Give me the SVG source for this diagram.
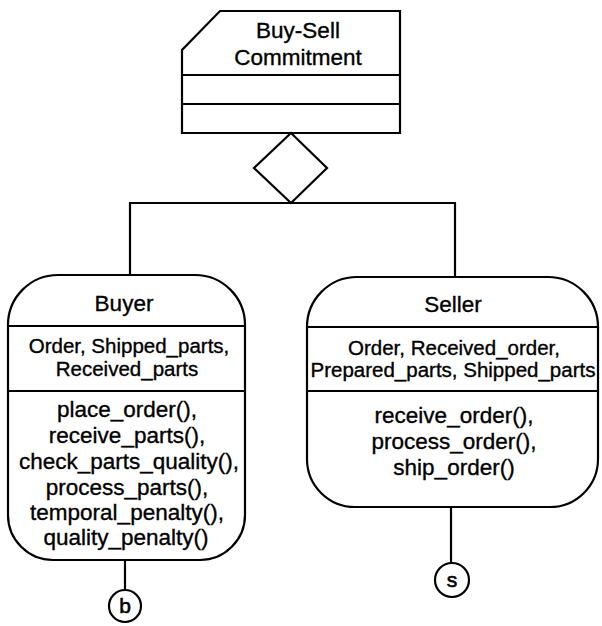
<svg xmlns="http://www.w3.org/2000/svg" width="602" height="626" viewBox="0 0 602 626">
  <style>
    .shape { fill: #fff; stroke: #000; stroke-width: 2.2; }
    .line { fill: none; stroke: #000; stroke-width: 2.2; }
    text { font-family: "Liberation Sans", Arial, sans-serif; fill: #000; stroke: #000; stroke-width: 0.35; text-anchor: middle; }
    .title { font-size: 22.5px; }
    .attr { font-size: 20.5px; }
    .op { font-size: 22.5px; }
    .tag { font-size: 21px; stroke-width: 0.6; }
  </style>
  <rect width="602" height="626" fill="#fff"/>

  <!-- connectors -->
  <g id="connectors">
    <polyline class="line" points="130,275 130,203 455,203 455,277"/>
    <line class="line" x1="125" y1="560" x2="125" y2="590"/>
    <line class="line" x1="451" y1="507" x2="451" y2="563"/>
  </g>

  <!-- commitment class with chamfered corner -->
  <g id="commitment">
    <path class="shape" d="M220,11 L400,11 L400,133 L182,133 L182,50 Z"/>
    <line class="line" x1="182" y1="75" x2="400" y2="75"/>
    <line class="line" x1="182" y1="104" x2="400" y2="104"/>
    <text class="title" x="298" y="38">Buy-Sell</text>
    <text class="title" x="298" y="65">Commitment</text>
  </g>

  <!-- aggregation diamond -->
  <g id="diamond">
    <polygon class="shape" points="291,133 327,168 291,203 254,168"/>
  </g>

  <!-- buyer role -->
  <g id="buyer">
    <path class="shape" d="M8,325 A50,50 0 0 1 58,275 L195,275 A50,50 0 0 1 245,325 L245,515 A45,45 0 0 1 200,560 L53,560 A45,45 0 0 1 8,515 Z"/>
    <line class="line" x1="8" y1="326" x2="245" y2="326"/>
    <line class="line" x1="8" y1="391" x2="245" y2="391"/>
    <text class="title" x="124" y="311">Buyer</text>
    <text class="attr" x="129" y="353">Order, Shipped_parts,</text>
    <text class="attr" x="127" y="376">Received_parts</text>
    <text class="op" x="127" y="417">place_order(),</text>
    <text class="op" x="127" y="443">receive_parts(),</text>
    <text class="op" x="129" y="469">check_parts_quality(),</text>
    <text class="op" x="127" y="494.5">process_parts(),</text>
    <text class="op" x="127" y="520">temporal_penalty(),</text>
    <text class="op" x="126" y="545">quality_penalty()</text>
  </g>

  <!-- seller role -->
  <g id="seller">
    <path class="shape" d="M307,327 A50,50 0 0 1 357,277 L548,277 A50,50 0 0 1 598,327 L598,459 A48,48 0 0 1 550,507 L355,507 A48,48 0 0 1 307,459 Z"/>
    <line class="line" x1="307" y1="327" x2="598" y2="327"/>
    <line class="line" x1="307" y1="391" x2="598" y2="391"/>
    <text class="title" x="453" y="312">Seller</text>
    <text class="attr" x="454" y="355">Order, Received_order,</text>
    <text class="attr" x="453" y="377">Prepared_parts, Shipped_parts</text>
    <text class="op" x="454" y="423">receive_order(),</text>
    <text class="op" x="454" y="449">process_order(),</text>
    <text class="op" x="454" y="475">ship_order()</text>
  </g>

  <!-- role connectors -->
  <g id="b">
    <circle class="shape" cx="125" cy="606" r="16"/>
    <text class="tag" x="125" y="613">b</text>
  </g>
  <g id="s">
    <circle class="shape" cx="452" cy="580" r="17"/>
    <text class="tag" x="452" y="587">s</text>
  </g>
</svg>
